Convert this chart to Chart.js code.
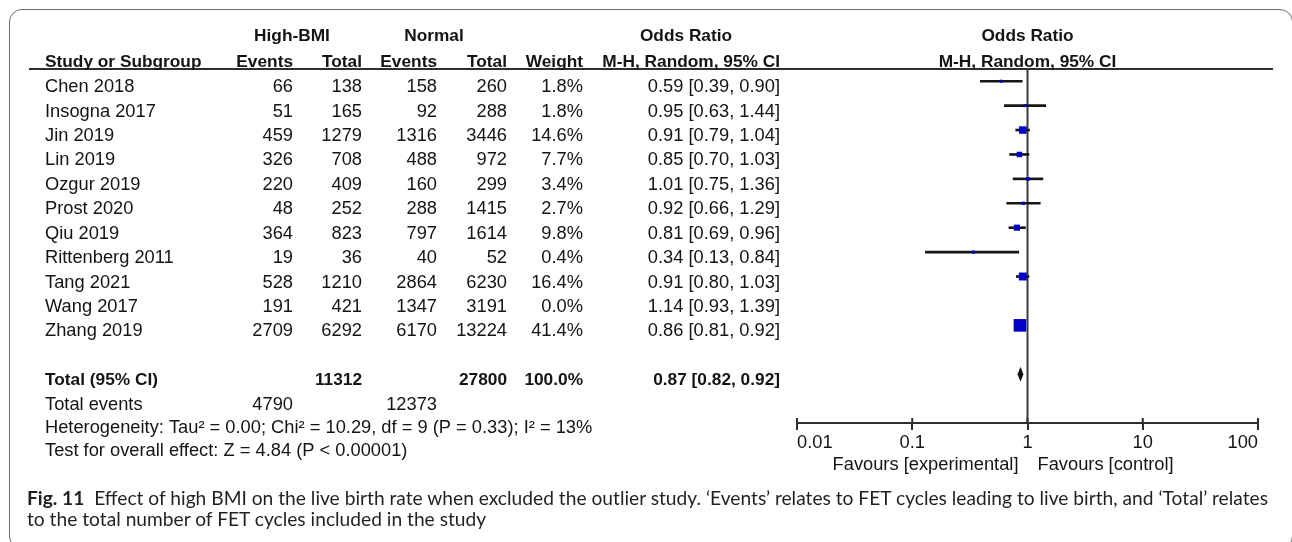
<!DOCTYPE html>
<html>
<head>
<meta charset="utf-8">
<script src="https://cdn.jsdelivr.net/npm/chart.js@4.4.1/dist/chart.umd.min.js"></script>
<style>
  html, body { margin: 0; padding: 0; background: #fff; width: 1292px; height: 542px; overflow: hidden; }
  #frame { position: absolute; left: 9px; top: 9px; width: 1284px; height: 540px; border: 1.5px solid #6a6a6a; border-radius: 13px; box-sizing: border-box; }
  #wrap { position: absolute; left: 0; top: 0; width: 1292px; height: 542px; }
  #caption { position: absolute; left: 27px; top: 488px; font-family: Lato, "Open Sans", sans-serif; font-size: 19.2px; line-height: 20.5px; color: #231f20; white-space: nowrap; }
  #caption b { font-weight: 700; }
</style>
</head>
<body>
<div id="frame"></div>
<div id="wrap"><canvas id="forest" width="1292" height="542"></canvas></div>
<div id="caption"><b>Fig. 11</b>&nbsp; Effect of high BMI on the live birth rate when excluded the outlier study. ‘Events’ relates to FET cycles leading to live birth, and ‘Total’ relates<br>to the total number of FET cycles included in the study</div>

<script>
// Study-level data (High-BMI vs Normal, live birth after FET)
const studies    = ['Chen 2018', 'Insogna 2017', 'Jin 2019', 'Lin 2019', 'Ozgur 2019', 'Prost 2020', 'Qiu 2019', 'Rittenberg 2011', 'Tang 2021', 'Wang 2017', 'Zhang 2019'];
const highEvents = [66, 51, 459, 326, 220, 48, 364, 19, 528, 191, 2709];
const highTotal  = [138, 165, 1279, 708, 409, 252, 823, 36, 1210, 421, 6292];
const normEvents = [158, 92, 1316, 488, 160, 288, 797, 40, 2864, 1347, 6170];
const normTotal  = [260, 288, 3446, 972, 299, 1415, 1614, 52, 6230, 3191, 13224];
const weights    = [1.8, 1.8, 14.6, 7.7, 3.4, 2.7, 9.8, 0.4, 16.4, 0.0, 41.4];
const oddsRatio  = [0.59, 0.95, 0.91, 0.85, 1.01, 0.92, 0.81, 0.34, 0.91, 1.14, 0.86];
const ciLow      = [0.39, 0.63, 0.79, 0.70, 0.75, 0.66, 0.69, 0.13, 0.80, 0.93, 0.81];
const ciHigh     = [0.90, 1.44, 1.04, 1.03, 1.36, 1.29, 0.96, 0.84, 1.03, 1.39, 0.92];

// Pooled estimate and totals
const pooledOR   = 0.87;
const pooledLow  = 0.82;
const pooledHigh = 0.92;
const totalHigh  = 11312;
const totalNorm  = 27800;
const eventsHigh = 4790;
const eventsNorm = 12373;
const totalWeight = '100.0%';

// Axis
const axisTicks = [0.01, 0.1, 1, 10, 100];
const favourLeft = 'Favours [experimental]';
const favourRight = 'Favours [control]';
const heterogeneity = 'Heterogeneity: Tau\u00B2 = 0.00; Chi\u00B2 = 10.29, df = 9 (P = 0.33); I\u00B2 = 13%';
const overallEffect = 'Test for overall effect: Z = 4.84 (P < 0.00001)';

const pooledRow = studies.length + 1;
const fmtCI = (o, l, h) => o.toFixed(2) + ' [' + l.toFixed(2) + ', ' + h.toFixed(2) + ']';

const FONT = '"Liberation Sans", Arial, sans-serif';
const SIZE = 18.3;       // regular text
const SIZE_B = 17.3;     // bold headers and pooled row
const INK = '#141414';
const MARK = '#0000c8';

// CI segments and weight-scaled squares; zero-weight studies are not drawn
const ciData = [];
const markData = [];
const markRadius = [];
studies.forEach((s, i) => {
  if (weights[i] <= 0) return;
  ciData.push({ x: [ciLow[i], ciHigh[i]], y: i });
  markData.push({ x: oddsRatio[i], y: i });
  const side = Math.max(3, 12.6 * Math.sqrt(weights[i] / 41.4));
  markRadius.push(side / Math.SQRT2);
});

const tablePlugin = {
  id: 'forestTable',
  beforeDatasetsDraw(chart) {
    const { ctx, chartArea, scales } = chart;
    const x1 = scales.x.getPixelForValue(1);
    ctx.save();
    // line of no effect
    ctx.strokeStyle = '#3a3a3a';
    ctx.lineWidth = 2;
    ctx.beginPath();
    ctx.moveTo(x1, chartArea.top);
    ctx.lineTo(x1, chartArea.bottom);
    ctx.stroke();
    ctx.restore();
  },
  afterDatasetsDraw(chart) {
    const { ctx, scales } = chart;
    const xs = scales.x, ys = scales.y;
    // pooled diamond
    const cy = ys.getPixelForValue(pooledRow);
    const xl = xs.getPixelForValue(pooledLow);
    const xc = xs.getPixelForValue(pooledOR);
    const xr = xs.getPixelForValue(pooledHigh);
    ctx.save();
    ctx.fillStyle = '#111';
    ctx.beginPath();
    ctx.moveTo(xl, cy);
    ctx.lineTo(xc, cy - 7.5);
    ctx.lineTo(xr, cy);
    ctx.lineTo(xc, cy + 7.5);
    ctx.closePath();
    ctx.fill();
    ctx.restore();
  },
  afterDraw(chart) {
    const { ctx, chartArea, scales } = chart;
    const xs = scales.x, ys = scales.y;
    const top = chartArea.top;
    const rowY = (r) => ys.getPixelForValue(r) + 6;
    const cols = [293, 362, 437, 507, 583, 780];
    const left = 45;
    const x1 = xs.getPixelForValue(1);

    ctx.save();
    // header rule
    ctx.strokeStyle = '#2e2e2e';
    ctx.lineWidth = 2;
    ctx.beginPath();
    ctx.moveTo(29, top);
    ctx.lineTo(1273, top);
    ctx.stroke();

    // axis tick marks above the axis line
    ctx.beginPath();
    axisTicks.forEach(v => {
      const px = xs.getPixelForValue(v);
      ctx.moveTo(px, chartArea.bottom - 5);
      ctx.lineTo(px, chartArea.bottom);
    });
    ctx.stroke();

    ctx.fillStyle = INK;
    ctx.textBaseline = 'middle';

    // header block
    ctx.font = 'bold ' + SIZE_B + 'px ' + FONT;
    const h1 = top - 33, h2 = top - 7;
    ctx.textAlign = 'center';
    ctx.fillText('High-BMI', 292, h1);
    ctx.fillText('Normal', 434, h1);
    ctx.fillText('Odds Ratio', 686, h1);
    ctx.fillText('Odds Ratio', x1, h1);
    ctx.fillText('M-H, Random, 95% CI', x1, h2);
    ctx.textAlign = 'left';
    ctx.fillText('Study or Subgroup', left, h2);
    ctx.textAlign = 'right';
    ['Events', 'Total', 'Events', 'Total', 'Weight', 'M-H, Random, 95% CI'].forEach((t, k) => ctx.fillText(t, cols[k], h2));

    // study rows
    ctx.font = SIZE + 'px ' + FONT;
    studies.forEach((s, i) => {
      const y = rowY(i);
      ctx.textAlign = 'left';
      ctx.fillText(s, left, y);
      ctx.textAlign = 'right';
      ctx.fillText(String(highEvents[i]), cols[0], y);
      ctx.fillText(String(highTotal[i]), cols[1], y);
      ctx.fillText(String(normEvents[i]), cols[2], y);
      ctx.fillText(String(normTotal[i]), cols[3], y);
      ctx.fillText(weights[i].toFixed(1) + '%', cols[4], y);
      ctx.fillText(fmtCI(oddsRatio[i], ciLow[i], ciHigh[i]), cols[5], y);
    });

    // pooled row
    ctx.font = 'bold ' + SIZE_B + 'px ' + FONT;
    const yt = rowY(pooledRow);
    ctx.textAlign = 'left';
    ctx.fillText('Total (95% CI)', left, yt);
    ctx.textAlign = 'right';
    ctx.fillText(String(totalHigh), cols[1], yt);
    ctx.fillText(String(totalNorm), cols[3], yt);
    ctx.fillText(totalWeight, cols[4], yt);
    ctx.fillText(fmtCI(pooledOR, pooledLow, pooledHigh), cols[5], yt);

    // footer lines
    ctx.font = SIZE + 'px ' + FONT;
    const ye = rowY(pooledRow + 1);
    ctx.textAlign = 'left';
    ctx.fillText('Total events', left, ye);
    ctx.textAlign = 'right';
    ctx.fillText(String(eventsHigh), cols[0], ye);
    ctx.fillText(String(eventsNorm), cols[2], ye);
    ctx.textAlign = 'left';
    ctx.fillText(heterogeneity, left, rowY(pooledRow + 1.95));
    ctx.fillText(overallEffect, left, rowY(pooledRow + 2.9));

    // favours labels under the axis
    const yf = chartArea.bottom + 42;
    ctx.textAlign = 'right';
    ctx.fillText(favourLeft, x1 - 9, yf);
    ctx.textAlign = 'left';
    ctx.fillText(favourRight, x1 + 10, yf);
    ctx.restore();
  }
};

new Chart(document.getElementById('forest'), {
  type: 'scatter',
  data: {
    datasets: [
      {
        type: 'bar',
        label: 'CI',
        indexAxis: 'y',
        data: ciData,
        backgroundColor: '#161616',
        borderWidth: 0,
        barThickness: 2,
        grouped: false,
        order: 2
      },
      {
        type: 'scatter',
        label: 'OR',
        data: markData,
        pointStyle: 'rect',
        pointRadius: markRadius,
        pointHoverRadius: markRadius,
        backgroundColor: MARK,
        borderColor: MARK,
        borderWidth: 0,
        order: 1
      }
    ]
  },
  options: {
    responsive: false,
    maintainAspectRatio: false,
    devicePixelRatio: 1,
    animation: false,
    events: [],
    layout: { padding: { left: 797, right: 34, top: 69, bottom: 79 } },
    plugins: { legend: { display: false }, tooltip: { enabled: false } },
    scales: {
      x: {
        type: 'logarithmic',
        position: 'bottom',
        min: 0.01,
        max: 100,
        afterBuildTicks: (scale) => { scale.ticks = axisTicks.map(v => ({ value: v })); },
        afterFit: (scale) => { scale.height = 40; },
        border: { display: true, color: '#2e2e2e', width: 2 },
        grid: { drawOnChartArea: false, drawTicks: true, tickLength: 7, color: '#2e2e2e', lineWidth: 2 },
        ticks: {
          align: 'inner',
          padding: 2,
          color: INK,
          font: { family: FONT, size: SIZE },
          maxRotation: 0,
          autoSkip: false,
          callback: (v) => String(v)
        }
      },
      y: {
        type: 'linear',
        display: false,
        reverse: true,
        offset: false,
        grace: 0,
        min: -0.5,
        max: 14
      }
    }
  },
  plugins: [tablePlugin]
});
</script>
</body>
</html>
